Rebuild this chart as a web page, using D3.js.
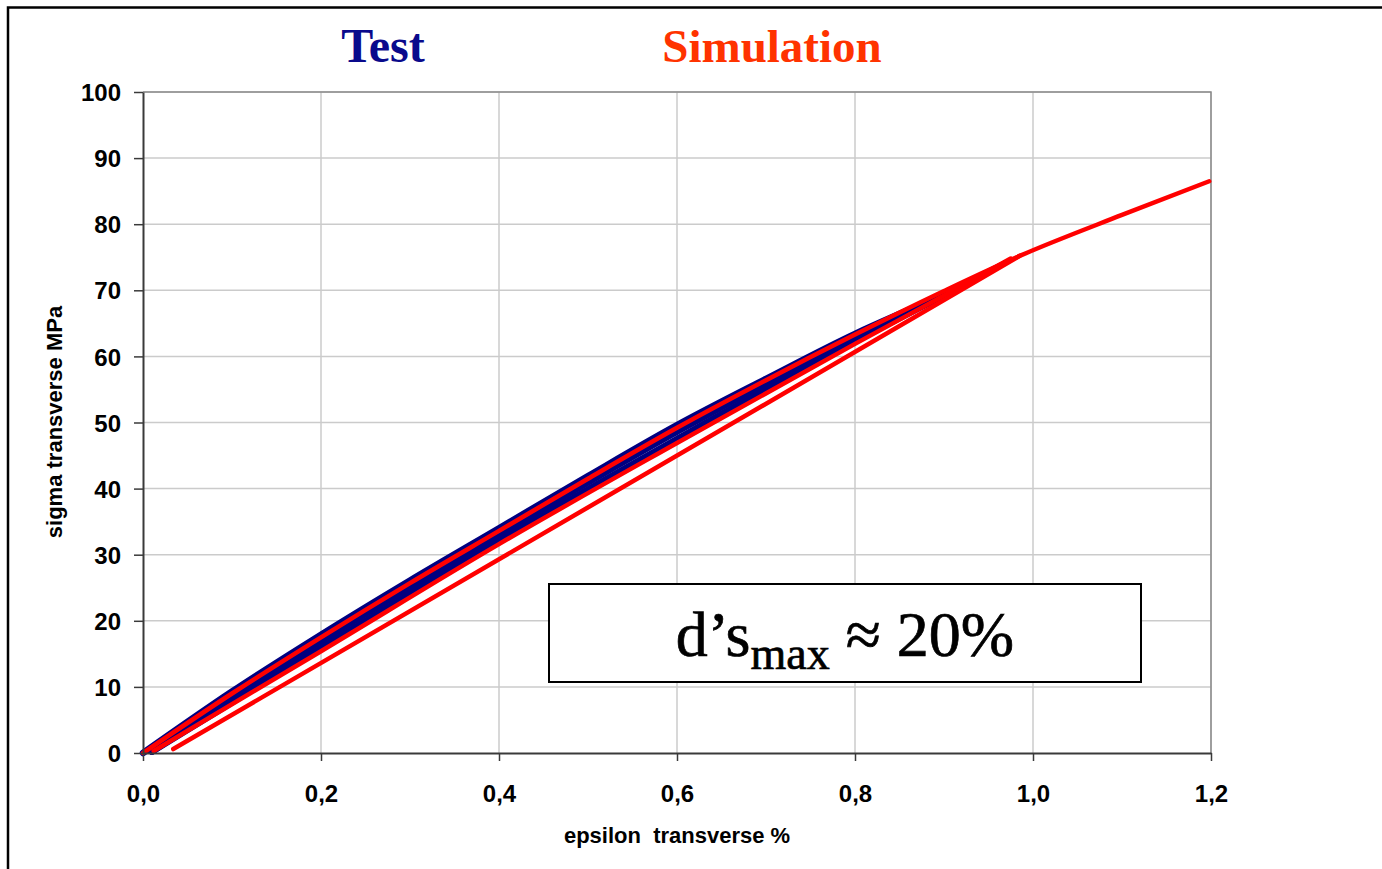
<!DOCTYPE html>
<html>
<head>
<meta charset="utf-8">
<script src="https://cdn.jsdelivr.net/npm/d3@7"></script>
<style>
  html, body { margin: 0; padding: 0; background: #ffffff; }
  svg { display: block; }
</style>
</head>
<body>
<svg id="chart" width="1382" height="869"></svg>
<script>
// Transverse stress–strain response: cyclic test vs. simulation
const xTicks = [0, 0.2, 0.4, 0.6, 0.8, 1.0, 1.2];
const yTicks = [0, 10, 20, 30, 40, 50, 60, 70, 80, 90, 100];

// Test: loading envelope
const testLoadStrain = [0, 0.1, 0.2, 0.3, 0.4, 0.5, 0.6, 0.7, 0.8, 0.904];
const testLoadStress = [0, 9.3, 17.9, 26.1, 34.0, 41.9, 49.6, 56.6, 63.4, 69.5];
// Test: unloading branch
const testUnloadStrain = [0.01, 0.2, 0.4, 0.6, 0.8, 0.904];
const testUnloadStress = [0.2, 15.9, 32.1, 47.5, 62.3, 69.5];
// Test: reloading branch
const testReloadStrain = [0.01, 0.2, 0.4, 0.6, 0.8, 0.904];
const testReloadStress = [0.2, 16.9, 33.0, 48.6, 62.9, 69.5];

// Simulation: monotonic loading envelope
const simLoadStrain = [0, 0.1, 0.2, 0.3, 0.4, 0.5, 0.6, 0.7, 0.8, 0.9, 0.985, 1.1, 1.198];
const simLoadStress = [0, 9.0, 17.5, 25.7, 33.6, 41.5, 49.2, 56.4, 63.3, 69.9, 75.2, 81.4, 86.5];
// Simulation: first unload/reload branch
const simCycle1Strain = [0.012, 0.2, 0.4, 0.6, 0.8, 0.9, 0.975];
const simCycle1Stress = [0.3, 15.4, 31.6, 46.9, 61.9, 69.2, 74.8];
// Simulation: second unload branch
const simCycle2Strain = [0.034, 0.985];
const simCycle2Stress = [0.6, 75.2];

const seriesNames = ["Test", "Simulation"];
const annotation = { main: "d’s", sub: "max", tail: " ≈ 20%" };
const xTitle = "epsilon  transverse %";
const yTitle = "sigma transverse MPa";

const svg = d3.select("#chart");
const fmt = d => d3.format(".1f")(d).replace(".", ",");

const x = d3.scaleLinear().domain([0, 1.2]).range([143, 1211]);
const y = d3.scaleLinear().domain([0, 100]).range([753, 92]);

// outer frame
svg.append("rect")
  .attr("x", 8).attr("y", 7.5)
  .attr("width", 1400).attr("height", 900)
  .attr("fill", "none").attr("stroke", "#000").attr("stroke-width", 2.5);

// gridlines
const grid = svg.append("g");
grid.selectAll("line.gx").data(xTicks.slice(1)).join("line")
  .attr("x1", d => x(d)).attr("x2", d => x(d))
  .attr("y1", y(0)).attr("y2", y(100))
  .attr("stroke", "#cbcbcb").attr("stroke-width", 1.5);
grid.selectAll("line.gy").data(yTicks.slice(1)).join("line")
  .attr("x1", x(0)).attr("x2", x(1.2))
  .attr("y1", d => y(d)).attr("y2", d => y(d))
  .attr("stroke", "#cbcbcb").attr("stroke-width", 1.5);

// plot-area border (top and right)
svg.append("path")
  .attr("d", `M${x(0)},${y(100)}H${x(1.2)}V${y(0)}`)
  .attr("fill", "none").attr("stroke", "#8a8a8a").attr("stroke-width", 1.5);

// series
const line = d3.line().x(d => x(d[0])).y(d => y(d[1])).curve(d3.curveMonotoneX);
const zip = (a, b) => a.map((e, i) => [e, b[i]]);

const testGroup = svg.append("g")
  .attr("fill", "none").attr("stroke", "#000080")
  .attr("stroke-width", 6.5).attr("stroke-linejoin", "round").attr("stroke-linecap", "round");
[
  zip(testLoadStrain, testLoadStress),
  zip(testUnloadStrain, testUnloadStress),
  zip(testReloadStrain, testReloadStress)
].forEach(pts => testGroup.append("path").datum(pts).attr("d", line));

const simGroup = svg.append("g")
  .attr("fill", "none").attr("stroke", "#ff0000")
  .attr("stroke-width", 4.5).attr("stroke-linejoin", "round").attr("stroke-linecap", "round");
[
  zip(simLoadStrain, simLoadStress),
  zip(simCycle1Strain, simCycle1Stress),
  zip(simCycle2Strain, simCycle2Stress)
].forEach(pts => simGroup.append("path").datum(pts).attr("d", line));

// axes
const axisFont = "'Liberation Sans', Arial, sans-serif";
const gx = svg.append("g").attr("transform", `translate(0,${y(0)})`)
  .call(d3.axisBottom(x).tickValues(xTicks).tickFormat(fmt).tickSizeInner(8).tickSizeOuter(0).tickPadding(24));
const gy = svg.append("g").attr("transform", `translate(${x(0)},0)`)
  .call(d3.axisLeft(y).tickValues(yTicks).tickFormat(d3.format("d")).tickSizeInner(9).tickSizeOuter(0).tickPadding(13));

[gx, gy].forEach(g => {
  g.select(".domain").attr("stroke", "#3a3a3a").attr("stroke-width", 2);
  g.selectAll(".tick line").attr("stroke", "#3a3a3a").attr("stroke-width", 1.5);
  g.selectAll(".tick text")
    .attr("fill", "#000")
    .style("font-family", axisFont)
    .style("font-weight", "bold")
    .style("font-size", "24px");
});
gy.selectAll(".tick text").attr("dy", "0.36em");

// axis titles
svg.append("text")
  .attr("x", 677).attr("y", 843)
  .attr("text-anchor", "middle")
  .style("white-space", "pre")
  .style("font-family", axisFont).style("font-weight", "bold").style("font-size", "22px")
  .text(xTitle);

svg.append("text")
  .attr("transform", "translate(62,422) rotate(-90)")
  .attr("text-anchor", "middle")
  .style("font-family", axisFont).style("font-weight", "bold").style("font-size", "22px")
  .text(yTitle);

// series titles
const serif = "'Liberation Serif', 'Times New Roman', serif";
svg.append("text")
  .attr("x", 383).attr("y", 62).attr("text-anchor", "middle")
  .style("font-family", serif).style("font-weight", "bold").style("font-size", "48px")
  .attr("fill", "#0a0a8c")
  .text(seriesNames[0]);
svg.append("text")
  .attr("x", 772).attr("y", 62).attr("text-anchor", "middle")
  .style("font-family", serif).style("font-weight", "bold").style("font-size", "47px")
  .attr("fill", "#ff3300")
  .text(seriesNames[1]);

// annotation box
svg.append("rect")
  .attr("x", 549).attr("y", 584).attr("width", 592).attr("height", 98)
  .attr("fill", "#fff").attr("stroke", "#000").attr("stroke-width", 2);

const ann = svg.append("text")
  .attr("x", 845).attr("y", 656).attr("text-anchor", "middle")
  .style("font-family", serif).style("font-size", "64px")
  .attr("fill", "#000").attr("stroke", "#000").attr("stroke-width", 0.7)
  .style("white-space", "pre");
ann.append("tspan").text(annotation.main);
ann.append("tspan").attr("dy", 13).style("font-size", "46px").text(annotation.sub);
ann.append("tspan").attr("dy", -13).text(annotation.tail);
</script>
</body>
</html>
